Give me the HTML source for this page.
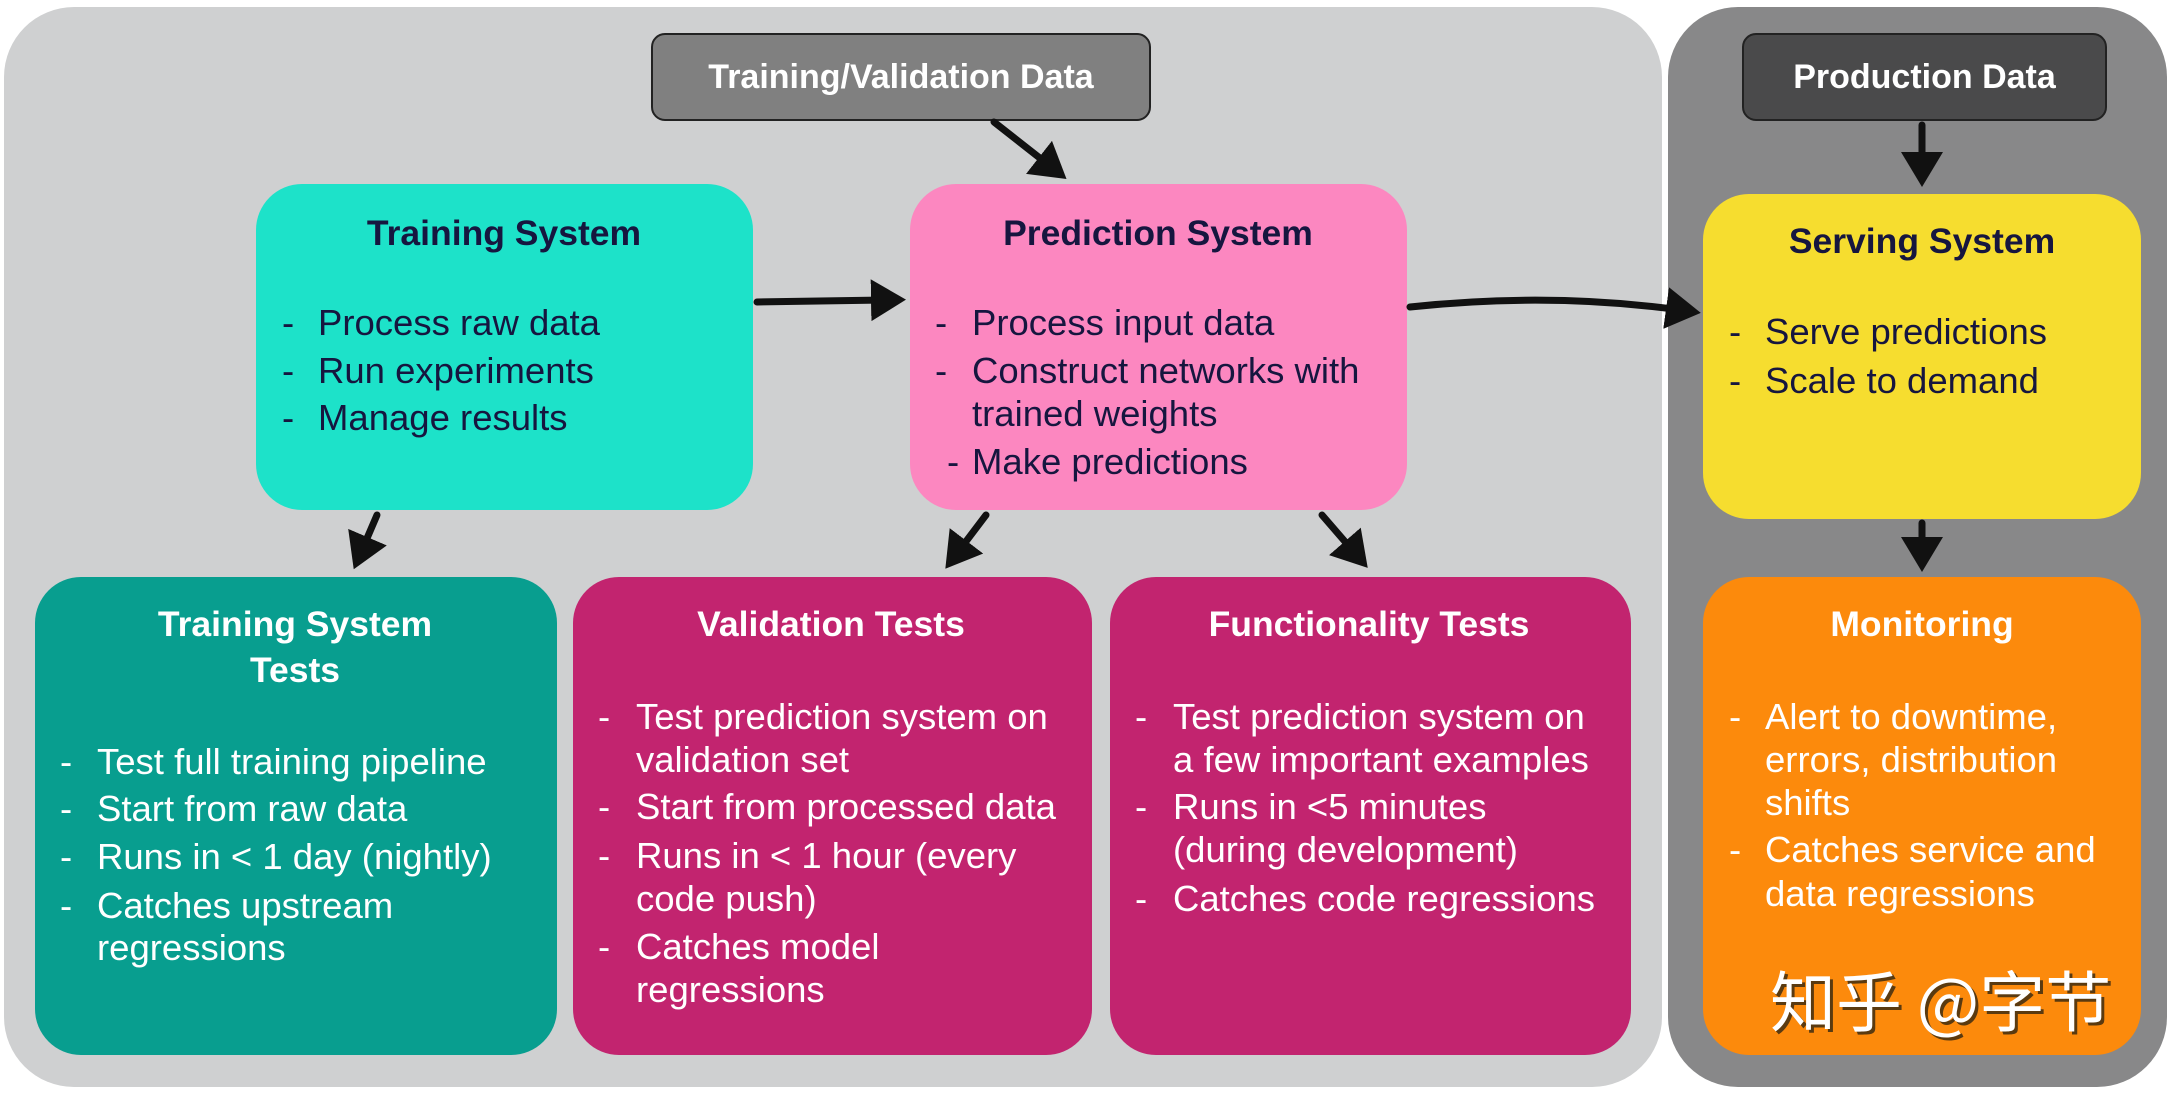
<!DOCTYPE html>
<html><head><meta charset="utf-8"><style>
body{margin:0;width:2171px;height:1095px;background:#fff;position:relative;overflow:hidden;font-family:"Liberation Sans","Noto Sans CJK SC",sans-serif}
.a{position:absolute}
.box{position:absolute;border-radius:46px}
.t{position:absolute;font-size:36.5px;line-height:40px;white-space:nowrap}
.h{position:absolute;font-size:35.5px;font-weight:bold;line-height:40px;white-space:nowrap;transform:translateX(-50%)}
.d{color:#16163f}.w{color:#fff}
</style></head><body>
<div class="a" style="left:4px;top:7px;width:1658px;height:1080px;background:#cfd0d1;border-radius:70px"></div>
<div class="a" style="left:1668px;top:7px;width:499px;height:1080px;background:#888889;border-radius:70px"></div>

<div class="a" style="left:651px;top:33px;width:496px;height:84px;background:#808080;border:2px solid #222;border-radius:14px;color:#fff;font-size:34px;font-weight:bold;line-height:84px;text-align:center">Training/Validation Data</div>
<div class="a" style="left:1742px;top:33px;width:361px;height:84px;background:#4a4a4b;border:2px solid #222;border-radius:14px;color:#fff;font-size:34px;font-weight:bold;line-height:84px;text-align:center">Production Data</div>

<div class="box" style="left:256px;top:184px;width:497px;height:326px;background:#1de2c9"></div>
<div class="box" style="left:910px;top:184px;width:497px;height:326px;background:#fc87c0"></div>
<div class="box" style="left:1703px;top:194px;width:438px;height:325px;background:#f6dd2f"></div>
<div class="box" style="left:35px;top:577px;width:522px;height:478px;background:#089e8f"></div>
<div class="box" style="left:573px;top:577px;width:519px;height:478px;background:#c2246f"></div>
<div class="box" style="left:1110px;top:577px;width:521px;height:478px;background:#c2246f"></div>
<div class="box" style="left:1703px;top:577px;width:438px;height:478px;background:#fc8a0c"></div>

<div class="h d" style="left:504px;top:213px">Training System</div>
<div class="t d" style="left:282px;top:303px">-</div><div class="t d" style="left:318px;top:303px">Process raw data</div>
<div class="t d" style="left:282px;top:351px">-</div><div class="t d" style="left:318px;top:351px">Run experiments</div>
<div class="t d" style="left:282px;top:398px">-</div><div class="t d" style="left:318px;top:398px">Manage results</div>

<div class="h d" style="left:1158px;top:213px">Prediction System</div>
<div class="t d" style="left:935px;top:303px">-</div><div class="t d" style="left:972px;top:303px">Process input data</div>
<div class="t d" style="left:935px;top:351px">-</div><div class="t d" style="left:972px;top:351px">Construct networks with</div>
<div class="t d" style="left:972px;top:394px">trained weights</div>
<div class="t d" style="left:947px;top:442px">-</div><div class="t d" style="left:972px;top:442px">Make predictions</div>

<div class="h d" style="left:1922px;top:221px">Serving System</div>
<div class="t d" style="left:1729px;top:312px">-</div><div class="t d" style="left:1765px;top:312px">Serve predictions</div>
<div class="t d" style="left:1729px;top:361px">-</div><div class="t d" style="left:1765px;top:361px">Scale to demand</div>

<div class="h w" style="left:295px;top:604px">Training System</div>
<div class="h w" style="left:295px;top:650px">Tests</div>
<div class="t w" style="left:60px;top:742px">-</div><div class="t w" style="left:97px;top:742px">Test full training pipeline</div>
<div class="t w" style="left:60px;top:789px">-</div><div class="t w" style="left:97px;top:789px">Start from raw data</div>
<div class="t w" style="left:60px;top:837px">-</div><div class="t w" style="left:97px;top:837px">Runs in &lt; 1 day (nightly)</div>
<div class="t w" style="left:60px;top:886px">-</div><div class="t w" style="left:97px;top:886px">Catches upstream</div>
<div class="t w" style="left:97px;top:928px">regressions</div>

<div class="h w" style="left:831px;top:604px">Validation Tests</div>
<div class="t w" style="left:598px;top:697px">-</div><div class="t w" style="left:636px;top:697px">Test prediction system on</div>
<div class="t w" style="left:636px;top:740px">validation set</div>
<div class="t w" style="left:598px;top:787px">-</div><div class="t w" style="left:636px;top:787px">Start from processed data</div>
<div class="t w" style="left:598px;top:836px">-</div><div class="t w" style="left:636px;top:836px">Runs in &lt; 1 hour (every</div>
<div class="t w" style="left:636px;top:879px">code push)</div>
<div class="t w" style="left:598px;top:927px">-</div><div class="t w" style="left:636px;top:927px">Catches model</div>
<div class="t w" style="left:636px;top:970px">regressions</div>

<div class="h w" style="left:1369px;top:604px">Functionality Tests</div>
<div class="t w" style="left:1135px;top:697px">-</div><div class="t w" style="left:1173px;top:697px">Test prediction system on</div>
<div class="t w" style="left:1173px;top:740px">a few important examples</div>
<div class="t w" style="left:1135px;top:787px">-</div><div class="t w" style="left:1173px;top:787px">Runs in &lt;5 minutes</div>
<div class="t w" style="left:1173px;top:830px">(during development)</div>
<div class="t w" style="left:1135px;top:879px">-</div><div class="t w" style="left:1173px;top:879px">Catches code regressions</div>

<div class="h w" style="left:1922px;top:604px">Monitoring</div>
<div class="t w" style="left:1729px;top:697px">-</div><div class="t w" style="left:1765px;top:697px">Alert to downtime,</div>
<div class="t w" style="left:1765px;top:740px">errors, distribution</div>
<div class="t w" style="left:1765px;top:783px">shifts</div>
<div class="t w" style="left:1729px;top:830px">-</div><div class="t w" style="left:1765px;top:830px">Catches service and</div>
<div class="t w" style="left:1765px;top:874px">data regressions</div>

<div class="a" style="left:1770px;top:960px;font-size:66px;line-height:76px;color:#fff;text-shadow:3px 3px 0 #5a3a10;font-family:'Noto Sans CJK SC','Liberation Sans',sans-serif;white-space:nowrap">知乎 @字节</div>

<svg class="a" style="left:0;top:0" width="2171" height="1095">
<defs><marker id="m" markerWidth="5" markerHeight="6" refX="2" refY="3" orient="auto" markerUnits="strokeWidth"><polygon points="0,0 5,3 0,6" fill="#111"/></marker></defs>
<g stroke="#111" stroke-width="7" fill="none" stroke-linecap="round" marker-end="url(#m)">
<path d="M757 302 L885 300"/>
<path d="M1410 307 Q1550 292 1680 310"/>
<path d="M994 122 L1050 166"/>
<path d="M1922 125 L1922 166"/>
<path d="M1922 523 L1922 551"/>
<path d="M377 515 L362 550"/>
<path d="M986 515 L958 552"/>
<path d="M1322 515 L1354 552"/>
</g></svg>
</body></html>
